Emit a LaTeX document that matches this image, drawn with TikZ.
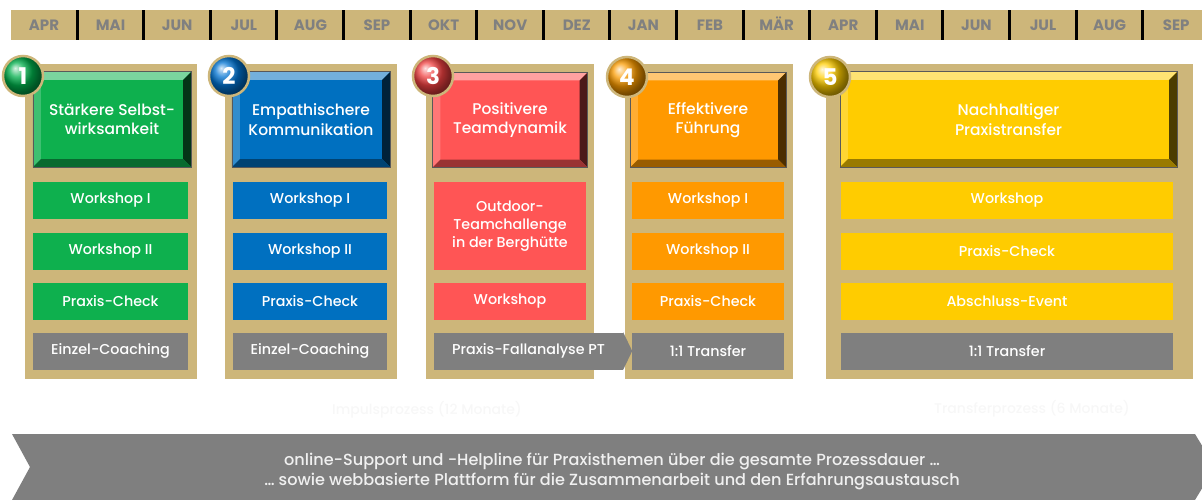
\documentclass[tikz,border=0pt]{standalone}
\usepackage{fontspec}
\setmainfont{Poppins}
\newfontfamily\pmed{Poppins Medium}
\definecolor{tanc}{RGB}{205,182,122}
\definecolor{monthtxt}{RGB}{128,128,128}
\definecolor{grn}{RGB}{14,176,78}
\definecolor{blu}{RGB}{0,112,192}
\definecolor{rd}{RGB}{255,85,85}
\definecolor{org}{RGB}{255,153,0}
\definecolor{yel}{RGB}{255,204,0}
\definecolor{gry}{RGB}{127,127,127}
\definecolor{ballg}{RGB}{0,175,75}
\definecolor{ballb}{RGB}{0,115,210}
\definecolor{ballr}{RGB}{240,65,65}
\definecolor{ballo}{RGB}{250,155,0}
\definecolor{bally}{RGB}{255,205,0}
\newcommand\bevelit[2]{%
 \fill[#2!55!white] (#1.north west) -- (#1.north east) -- ([shift={(-8,8)}]#1.north east) -- ([shift={(8,8)}]#1.north west) -- cycle;
 \fill[#2!80!white] (#1.north west) -- ([shift={(8,8)}]#1.north west) -- ([shift={(8,-8)}]#1.south west) -- (#1.south west) -- cycle;
 \fill[#2!30!black] (#1.north east) -- (#1.south east) -- ([shift={(-8,-8)}]#1.south east) -- ([shift={(-8,8)}]#1.north east) -- cycle;
 \fill[#2!60!black] (#1.south west) -- (#1.south east) -- ([shift={(-8,-8)}]#1.south east) -- ([shift={(8,-8)}]#1.south west) -- cycle;
 \draw[black!65,line width=0.6pt] (#1.north west) rectangle (#1.south east);
}
\begin{document}
\begin{tikzpicture}[x=1pt,y=-1pt,
  month/.style={text=monthtxt,font=\bfseries\fontsize{15}{15}\selectfont,inner sep=0,anchor=base},
  frame/.style={fill=tanc,minimum height=315,inner sep=0},
  hdr/.style={minimum height=95,inner sep=0,text=white,align=center,font=\pmed\fontsize{15.5}{19.5}\selectfont},
  item/.style={minimum height=37,inner sep=0,text=white,align=center,font=\pmed\fontsize{14.3}{18}\selectfont},
  badge/.style={circle,minimum size=40,inner sep=0,draw=tanc,line width=2.5pt,shading=ball,text=white,font=\bfseries\fontsize{23}{23}\selectfont},
  faint/.style={text=black!3,font=\pmed\fontsize{14}{16}\selectfont}]
\useasboundingbox (0,0) rectangle (1202,500);
\clip (0,0) rectangle (1202,500);
% month bar
\fill[tanc] (11,10) rectangle (1202,40);
\foreach \m [count=\i from 0] in {APR,MAI,JUN,JUL,AUG,SEP,OKT,NOV,DEZ,JAN,FEB,MÄR,APR,MAI,JUN,JUL,AUG,SEP}
  \node[month] (m\i) at ({44+66.6*\i},31) {\m};
\foreach \i in {0,...,16}
  \fill[black] ({77+66.6*\i-1.5},10) rectangle ++(3,30);
% frames
\node[frame,minimum width=172] (f1) at (111,221.5) {};
\node[frame,minimum width=172] (f2) at (311,221.5) {};
\node[frame,minimum width=168] (f3) at (510,221.5) {};
\node[frame,minimum width=168] (f4) at (709,221.5) {};
\node[frame,minimum width=367] (f5) at (1009.5,221.5) {};
% headers
\node[hdr,fill=grn,minimum width=158] (h1) at (112,119.5) {Stärkere Selbst-\\wirksamkeit};
\node[hdr,fill=blu,minimum width=158] (h2) at (311,119.5) {Empathischere\\Kommunikation};
\node[hdr,fill=rd,minimum width=155] (h3) at (510,120) {Positivere\\Teamdynamik};
\node[hdr,fill=org,minimum width=156] (h4) at (708,120) {Effektivere\\Führung};
\node[hdr,fill=yel,minimum width=337] (h5) at (1008.5,119.5) {Nachhaltiger\\Praxistransfer};
\bevelit{h1}{grn}
\bevelit{h2}{blu}
\bevelit{h3}{rd}
\bevelit{h4}{org}
\bevelit{h5}{yel}
% column 1
\node[item,fill=grn,minimum width=155] (a1) at (110.5,200.5) {Workshop I};
\node[item,fill=grn,minimum width=155] (a2) at (110.5,251) {Workshop II};
\node[item,fill=grn,minimum width=155] (a3) at (110.5,301.5) {Praxis-Check};
\node[item,fill=gry,minimum width=155] (a4) at (110.5,351) {Einzel-Coaching};
% column 2
\node[item,fill=blu,minimum width=154] (b1) at (310,200.5) {Workshop I};
\node[item,fill=blu,minimum width=154] (b2) at (310,251) {Workshop II};
\node[item,fill=blu,minimum width=154] (b3) at (310,301.5) {Praxis-Check};
\node[item,fill=gry,minimum width=154] (b4) at (310,351) {Einzel-Coaching};
% column 3
\node[item,fill=rd,minimum width=152,minimum height=88] (c1) at (510,226) {Outdoor-\\Teamchallenge\\in der Berghütte};
\node[item,fill=rd,minimum width=152] (c2) at (510,301.5) {Workshop};
\node[item,fill=gry,minimum width=189] (c3) at (528.5,351) {Praxis-Fallanalyse PT};
\fill[gry] (c3.north east) -- ([xshift=9]c3.east) -- (c3.south east) -- cycle;
% column 4
\node[item,fill=org,minimum width=152] (d1) at (708,200.5) {Workshop I};
\node[item,fill=org,minimum width=152] (d2) at (708,251.5) {Workshop II};
\node[item,fill=org,minimum width=152] (d3) at (708,301.5) {Praxis-Check};
\node[item,fill=gry,minimum width=152] (d4) at (708,351) {1:1 Transfer};
% column 5
\node[item,fill=yel,minimum width=332] (e1) at (1007,200.5) {Workshop};
\node[item,fill=yel,minimum width=332] (e2) at (1007,251) {Praxis-Check};
\node[item,fill=yel,minimum width=332] (e3) at (1007,301.5) {Abschluss-Event};
\node[item,fill=gry,minimum width=332] (e4) at (1007,351) {1:1 Transfer};
% badges
\node[badge,ball color=ballg] (n1) at (23,76) {1};
\node[badge,ball color=ballb] (n2) at (229,76) {2};
\node[badge,ball color=ballr] (n3) at (433,76) {3};
\node[badge,ball color=ballo] (n4) at (627,77) {4};
\node[badge,ball color=bally] (n5) at (830,77) {5};
% faint process labels
\node[faint] (p1) at (427,410) {Impulsprozess (12 Monate)};
\node[faint] (p2) at (1032,409) {Transferprozess (6 Monate)};
% bottom arrow
\fill[gry] (12,434) -- (1195,434) -- (1215,467) -- (1195,500) -- (12,500) -- (30,467) -- cycle;
\node[text=white!94!black,align=center,font=\pmed\fontsize{16.1}{20}\selectfont] (bt) at (612,471.5)
  {online-Support und -Helpline für Praxisthemen über die gesamte Prozessdauer …\\… sowie webbasierte Plattform für die Zusammenarbeit und den Erfahrungsaustausch};
\end{tikzpicture}
\end{document}
